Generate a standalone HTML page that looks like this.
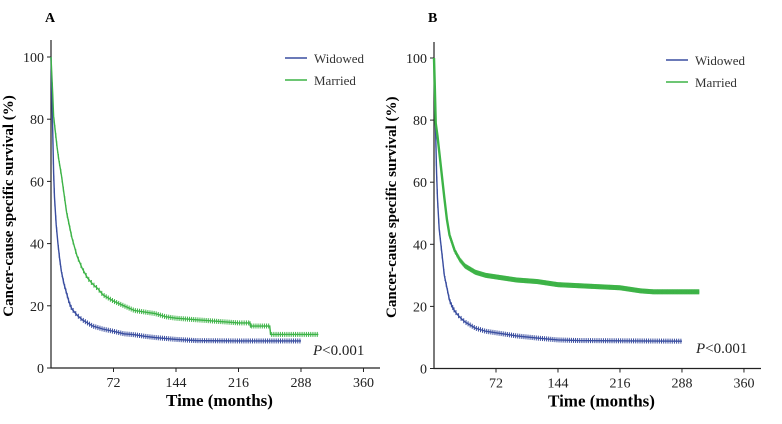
<!DOCTYPE html>
<html><head><meta charset="utf-8"><style>
html,body{margin:0;padding:0;background:#fff;width:782px;height:424px;overflow:hidden}
svg text{font-family:"Liberation Serif",serif}
</style></head><body>
<svg id="c" width="782" height="424" xmlns="http://www.w3.org/2000/svg"></svg>
<script>
const xTicks=[72,144,216,288,360];
const yTicks=[0,20,40,60,80,100];
// Panel A
const aWidT=[0,1,2,3,4,6,8,10,12,15,18,21,24,30,36,48,60,72,84,96,108,120,144,168,216,288];
const aWidS=[100,88,76,63,55,46,40,35,31,27,24,21,19,17,15.5,13.5,12.5,11.8,11,10.7,10.2,9.8,9.2,8.8,8.7,8.7];
const aMarT=[0,2,3,5,7,9,12,15,18,21,24,30,36,42,48,54,60,72,84,96,108,120,132,144,168,192,216,229,230,252,253,308];
const aMarS=[100,88,81,76,71,67,62,56,50,46,42,36,32,29,27,25.5,23.5,21.5,20,18.5,18,17.5,16.5,16,15.5,15,14.5,14.5,13.5,13.5,10.8,10.8];
// Panel B
const bWidT=[0,1,2,3,4,6,8,10,12,15,18,21,24,30,36,48,60,72,84,96,120,144,168,288];
const bWidS=[100,85,75,63,55,45,40,35,30,26,22,20,18.5,16.5,15,13,12,11.5,11,10.5,9.8,9.2,9,8.8];
const bMarT=[0,1,2,4,6,8,10,12,15,18,24,30,36,48,60,72,96,120,144,180,216,240,255,308];
const bMarS=[100,90,79,75,70,65,60,55,48,43,38,35,33,31,30,29.5,28.5,28,27,26.5,26,25,24.7,24.7];

const svg=document.getElementById('c');
const NS='http://www.w3.org/2000/svg';
function mk(tag,attrs,parent){const e=document.createElementNS(NS,tag);for(const k in attrs)e.setAttribute(k,attrs[k]);(parent||svg).appendChild(e);return e;}
function txt(s,attrs,parent){const e=mk('text',attrs,parent);e.textContent=s;return e;}

function panel(p){
  const g=mk('g',{});
  
  
  const X=v=>p.x0+v*p.kx, Y=v=>p.y0-v*p.ky;
  const l=txt(p.id,{x:p.x0-6,y:22,'font-size':14,'font-weight':'bold'},g);
  
  const ax=mk('path',{d:`M${p.x0} ${p.top}V${p.y0}H${p.right}`,stroke:'#222',fill:'none','stroke-width':1.2},g);
  
  yTicks.forEach(v=>{
    mk('line',{x1:p.x0-4,x2:p.x0,y1:Y(v),y2:Y(v),stroke:'#222'},g);
    const t=txt(v,{x:p.x0-7,y:Y(v)+5,'font-size':14,'text-anchor':'end',fill:'#222'},g);
    
  });
  xTicks.forEach(v=>{
    mk('line',{x1:X(v),x2:X(v),y1:p.y0,y2:p.y0+4,stroke:'#222'},g);
    const t=txt(v,{x:X(v),y:p.y0+19,'font-size':14,'text-anchor':'middle',fill:'#222'},g);
    
  });
  const yt=txt('Cancer-cause specific survival (%)',{x:0,y:0,'font-size':15,'font-weight':'bold','text-anchor':'middle',transform:`translate(${p.x0-38},${(p.top+p.y0)/2+2}) rotate(-90)`},g);
  
  const xt=txt('Time (months)',{x:(p.x0+p.right)/2+4,y:p.y0+38,'font-size':17,'font-weight':'bold','text-anchor':'middle'},g);
  
  p.series.forEach(s=>{
    let d=`M${X(s.t[0])} ${Y(s.s[0])}`;
    for(let i=1;i<s.t.length;i++){d+=`L${X(s.t[i])} ${Y(s.s[i])}`;}
    const path=mk('path',{d,stroke:s.c,fill:'none','stroke-width':s.w},g);
    
    for(let i=1;i<s.t.length;i++){
      const n=Math.max(2,Math.round((s.t[i]-s.t[i-1])*s.dense));
      for(let k=0;k<n;k++){
        const f=(k+0.5)/n;
        const tt=s.t[i-1]+(s.t[i]-s.t[i-1])*f;
        const vv=s.s[i-1]+(s.s[i]-s.s[i-1])*f;
        const m=mk('line',{x1:X(tt),x2:X(tt),y1:Y(vv)-2.5,y2:Y(vv)+2.5,stroke:s.c,'stroke-width':1},g);
        
      }
    }
  });
  p.series.forEach((s,i)=>{
    const ly=p.legY+i*22;
    const ll=mk('line',{x1:p.legX,x2:p.legX+22,y1:ly,y2:ly,stroke:s.c,'stroke-width':1.5},g);
    
    const lt=txt(s.label,{x:p.legX+29,y:ly+5,'font-size':13,fill:'#333'},g);
    
  });
  const pv=mk('text',{x:p.pX,y:p.pY,'font-size':15,fill:'#222'},g);
  pv.innerHTML='<tspan font-style="italic">P</tspan>&lt;0.001';
  
}
panel({id:'A',x0:51,y0:368,kx:0.868,ky:3.11,top:40,right:380,legX:285,legY:58,pX:313,pY:355,
  series:[{name:'widowed',label:'Widowed',t:aWidT,s:aWidS,c:'#3a4ea0',w:1.4,dense:0.4},
          {name:'married',label:'Married',t:aMarT,s:aMarS,c:'#3db347',w:1.4,dense:0.4}]});
panel({id:'B',x0:434,y0:368.5,kx:0.861,ky:3.105,top:42,right:761,legX:666,legY:60,pX:696,pY:353,
  series:[{name:'widowed',label:'Widowed',t:bWidT,s:bWidS,c:'#3a4ea0',w:1.4,dense:0.4},
          {name:'married',label:'Married',t:bMarT,s:bMarS,c:'#3db347',w:2.4,dense:1.2}]});
</script>
</body></html>
